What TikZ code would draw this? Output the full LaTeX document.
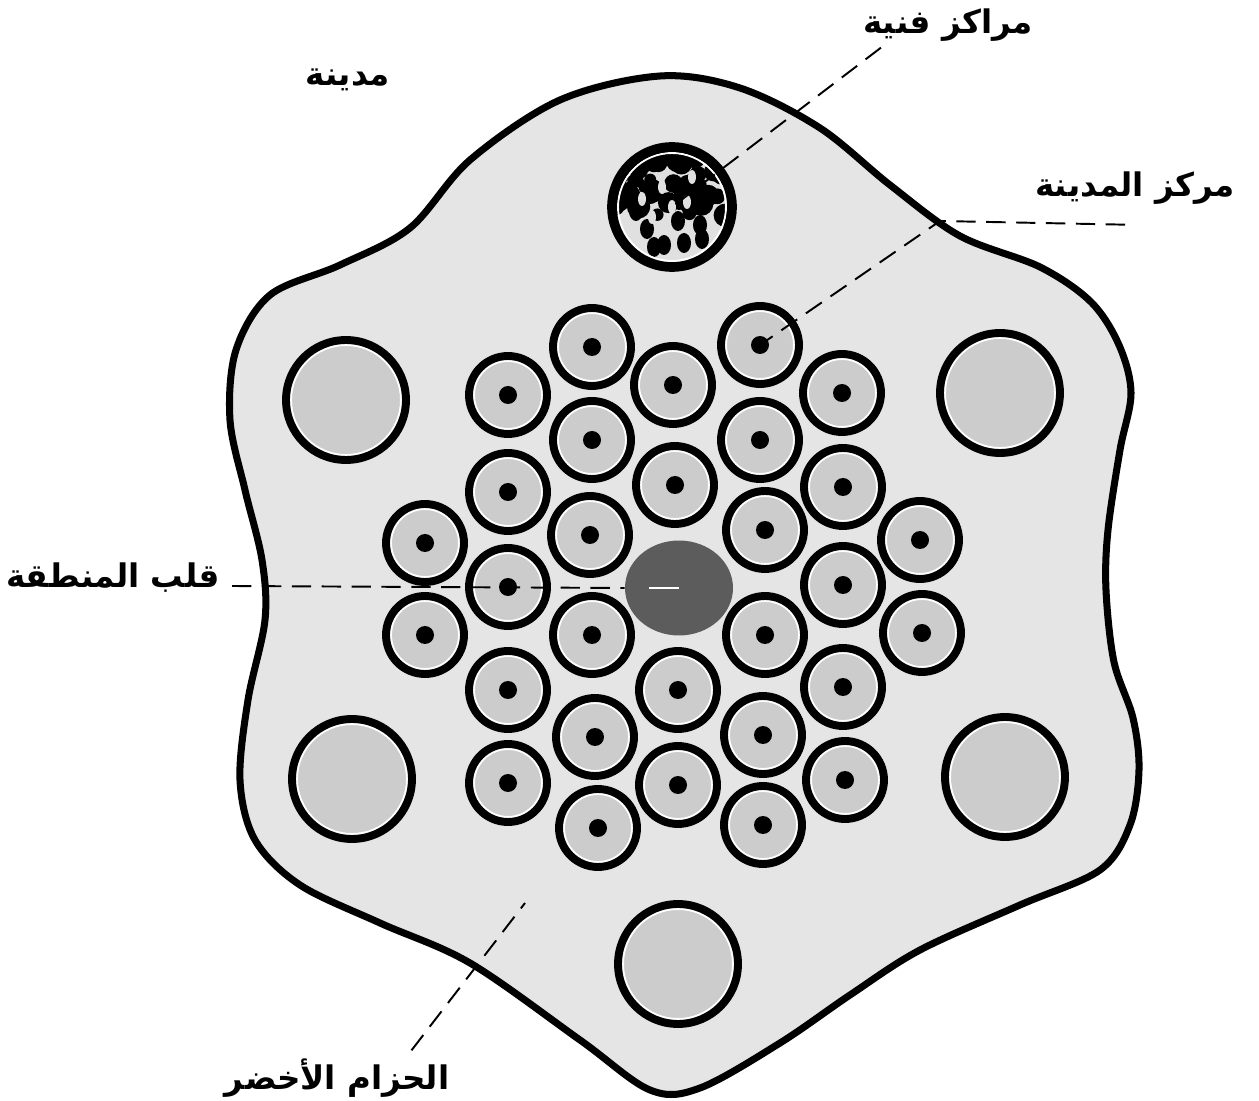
\documentclass[tikz,border=0pt]{standalone}
\usepackage{fontspec}
\newfontfamily\arabicfont[Script=Arabic]{DejaVu Sans}
\TeXXeTstate=1
\usetikzlibrary{shapes.geometric,calc}
\definecolor{beltgray}{gray}{0.90}
\definecolor{ringfill}{gray}{0.80}
\definecolor{coregray}{gray}{0.36}
\tikzset{
  town/.style={circle,draw=black,line width=4.5pt,fill=ringfill,inner sep=0pt,
    minimum size=1.56cm,
    path picture={
      \draw[white,line width=1.1pt] (path picture bounding box.center) circle (34);
      \fill[black] (path picture bounding box.center) circle (9);}},
  satellite/.style={circle,draw=black,line width=4.5pt,fill=ringfill,inner sep=0pt,
    minimum size=2.4cm,
    path picture={
      \draw[white,line width=1.1pt] (path picture bounding box.center) circle (55);}},
  leader/.style={draw=black,line width=1.1pt,dash pattern=on 11pt off 6pt},
  tag/.style={font=\arabicfont\bfseries\fontsize{18.5}{22}\selectfont,inner sep=0pt}
}
\begin{document}
\begin{tikzpicture}[x=0.02cm,y=-0.02cm]
  \useasboundingbox (0,0) rectangle (1259,1101);
  % the city with its green belt
  \draw[line width=4pt,fill=beltgray] plot[smooth cycle,tension=0.55] coordinates {
    (470,160) (560,100) (660,76) (740,88) (820,128) (890,185) (960,236)
    (1040,267) (1091,302) (1119,345) (1131,393) (1120,450) (1108,530)
    (1106,590) (1114,662) (1133,718) (1139,770) (1130,825) (1100,870)
    (1020,905) (920,950) (850,995) (780,1043) (700,1088) (650,1090)
    (580,1040) (470,963) (380,923) (300,885) (255,840) (240,780)
    (248,700) (265,620) (262,560) (245,490) (230,420) (236,350)
    (270,295) (340,265) (410,228)};
  % satellite towns
  \node[satellite] (s1) at (346,400) {};
  \node[satellite] (s2) at (1000,393) {};
  \node[satellite] (s3) at (352,779) {};
  \node[satellite] (s4) at (1005,777) {};
  \node[satellite] (s5) at (678,964) {};
  % technical centres
  \node[satellite,line width=5.5pt,fill=black!12,path picture={
      \pgfmathsetseed{11}
      \foreach \i in {1,...,70}{
        \pgfmathsetmacro\bx{rnd*110-55}
        \pgfmathsetmacro\by{rnd*70-60}
        \pgfmathsetmacro\br{rnd*8+4}
        \fill[black] ($(path picture bounding box.center)+(\bx,\by)$) circle (\br);}
      \foreach \bx/\by in {-25/22,-8/38,12/36,28/18,-36/4,6/14,-18/40,30/32}
        \fill[black] ($(path picture bounding box.center)+(\bx,\by)$) ellipse (7 and 10);
      \foreach \bx/\by in {-10/-20,15/-5,-30/-8,20/-30,0/0,-20/10}
        \fill[black!12] ($(path picture bounding box.center)+(\bx,\by)$) ellipse (4 and 7);
      \draw[white,line width=1.1pt] (path picture bounding box.center) circle (54);}]
    (tech) at (672,207) {};
  % neighbourhood units
  \foreach \horizontal/\vertical [count=\n] in {
      425/543,425/635,
      508/395,508/492,508/587,508/690,508/783,
      592/347,592/440,590/535,592/635,595/737,598/828,
      673/385,675/485,678/690,678/785,
      760/345,760/440,765/530,765/635,763/735,763/825,
      842/393,843/487,843/585,843/687,845/780,
      920/540,922/633}
    \node[town] (u\n) at (\horizontal,\vertical) {};
  \node[ellipse,fill=coregray,minimum width=2.16cm,minimum height=1.9cm] (core) at (679,588) {};
  % labels and leaders
  \node[tag] (lblcity) at (348,80) {\beginR مدينة\endR};
  \node[tag] (lbltech) at (948,25) {\beginR مراكز فنية\endR};
  \node[tag] (lblcentre) at (1135,188) {\beginR مركز المدينة\endR};
  \node[tag] (lblheart) at (113,578) {\beginR قلب المنطقة\endR};
  \node[tag] (lblbelt) at (337,1078) {\beginR الحزام الأخضر\endR};
  \coordinate (bend) at (940,221);
  \coordinate (beltend) at (525,903);
  \draw[leader] (lbltech.south west) ++(18,6) -- (tech.center);
  \draw[leader] (lblcentre.south) ++(-10,20) -- (bend) -- (u18.center);
  \draw[leader] (lblheart.east) ++(12,8) -- (core.west);
  \draw[white,line width=1.6pt] (core.center) -- ++(-30,0);
  \draw[leader] (lblbelt.north east) ++(-38,-8) -- (beltend);
\end{tikzpicture}
\end{document}
